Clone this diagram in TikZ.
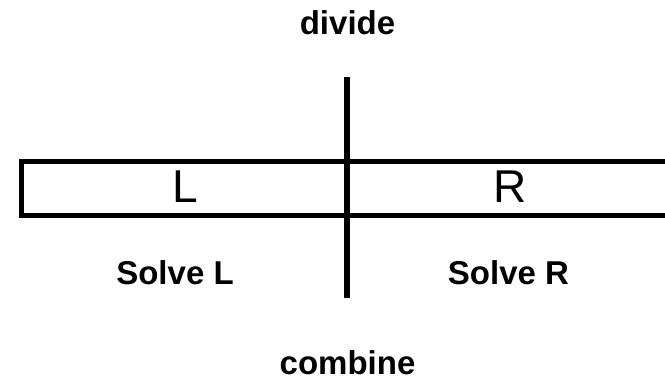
\documentclass[tikz,border=0pt]{standalone}
\usepackage{fontspec}
\setmainfont{Liberation Sans}
\usetikzlibrary{positioning}
\begin{document}
\begin{tikzpicture}[
    x=0.5pt, y=0.5pt,
    stepname/.style={font=\fontsize{16.5}{18}\selectfont\bfseries, anchor=base, inner sep=0pt},
    half/.style={font=\fontsize{23}{26}\selectfont, anchor=base, inner sep=0pt},
    bar/.style={line width=2.5pt, line join=miter},
  ]
  \useasboundingbox (0,0) rectangle (665,383);
  % the array, open to the right
  \coordinate (lt) at (21.5,221.5);
  \coordinate (lb) at (21.5,167.5);
  \coordinate (rt) at (667,221.5);
  \coordinate (rb) at (667,167.5);
  \draw[bar] (rt) -- (lt) -- (lb) -- (rb);
  % split line
  \coordinate (top) at (347,306);
  \coordinate (bot) at (347,85);
  \draw[line width=3pt] (top) -- (bot);
  \node[half] (left) at (185,180) {L};
  \node[half] (right) at (510,180) {R};
  \node[stepname] (divide) at (347.5,348) {divide};
  \node[stepname] (solveL) at (175,98) {Solve L};
  \node[stepname] (solveR) at (508.5,98) {Solve R};
  \node[stepname, text depth=0pt] (combine) at (347.5,8) {combine};
\end{tikzpicture}
\end{document}
